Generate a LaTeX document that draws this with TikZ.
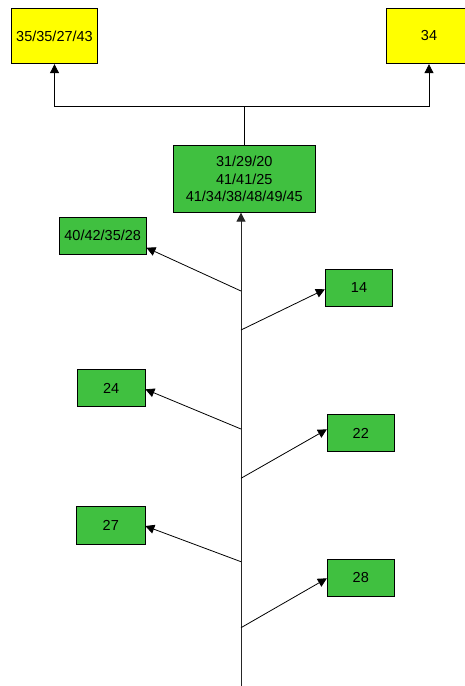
\documentclass[tikz,border=0pt]{standalone}
\usepackage{fontspec}
\setmainfont{Liberation Sans}
\usetikzlibrary{arrows.meta}
\definecolor{boxgreen}{RGB}{64,192,64}
\definecolor{boxyellow}{RGB}{255,255,0}
\tikzset{
  gbox/.style={draw=black, line width=0.8pt, fill=boxgreen, inner sep=0pt, align=center,
    font=\fontsize{14.5}{17.5}\selectfont},
  ybox/.style={gbox, fill=boxyellow},
  arr/.style={draw=black, line width=0.8pt, -{Triangle[length=9pt,width=9pt]}},
  trunk/.style={draw=black!85, line width=1pt}
}
\begin{document}
\begin{tikzpicture}[x=1pt,y=-1pt]
\useasboundingbox (0,0) rectangle (465,686);
\clip (0,0) rectangle (465,686);
\fill[white] (0,0) rectangle (465,686);
% nodes
\node[ybox, minimum width=86.5pt, minimum height=55.5pt] (y1) at (54.5,36) {35/35/27/43};
\node[ybox, minimum width=86pt, minimum height=55.5pt] (y2) at (429,36) {34};
\node[gbox, minimum width=142pt, minimum height=66.6pt] (c) at (244.3,179) {31/29/20\\41/41/25\\41/34/38/48/49/45};
\node[gbox, minimum width=86.7pt, minimum height=37pt] (b40) at (102.7,235.8) {40/42/35/28};
\node[gbox, minimum width=67.4pt, minimum height=37.4pt] (b14) at (359,288) {14};
\node[gbox, minimum width=67.7pt, minimum height=37.4pt] (b24) at (111.2,388) {24};
\node[gbox, minimum width=67pt, minimum height=37.4pt] (b22) at (360.8,433) {22};
\node[gbox, minimum width=68.3pt, minimum height=37.6pt] (b27) at (110.8,525.5) {27};
\node[gbox, minimum width=67pt, minimum height=37.4pt] (b28) at (360.8,578) {28};
% coordinates
\coordinate (bot) at (241,690);
\coordinate (j) at (244.3,106);
\coordinate (t1) at (241,291);
\coordinate (t2) at (241,330);
\coordinate (t3) at (241,429);
\coordinate (t4) at (241,478.3);
\coordinate (t5) at (241,561.7);
\coordinate (t6) at (241,627.7);
% trunk
\draw[trunk, -{Triangle[length=9pt,width=9pt]}] (bot) -- (bot |- c.south);
% top connectors
\draw[arr] (c.north) -- (j) -| (y1.south);
\draw[arr] (j) -| (y2.south);
% branches
\draw[arr] (t1) -- ([yshift=-11.9pt]b40.east);
\draw[arr] (t2) -- ([yshift=-1.3pt]b14.west);
\draw[arr] (t3) -- ([yshift=-1.3pt]b24.east);
\draw[arr] (t4) -- ([yshift=3.7pt]b22.west);
\draw[arr] (t5) -- ([yshift=-0.5pt]b27.east);
\draw[arr] (t6) -- ([yshift=-0.3pt]b28.west);
\end{tikzpicture}
\end{document}
